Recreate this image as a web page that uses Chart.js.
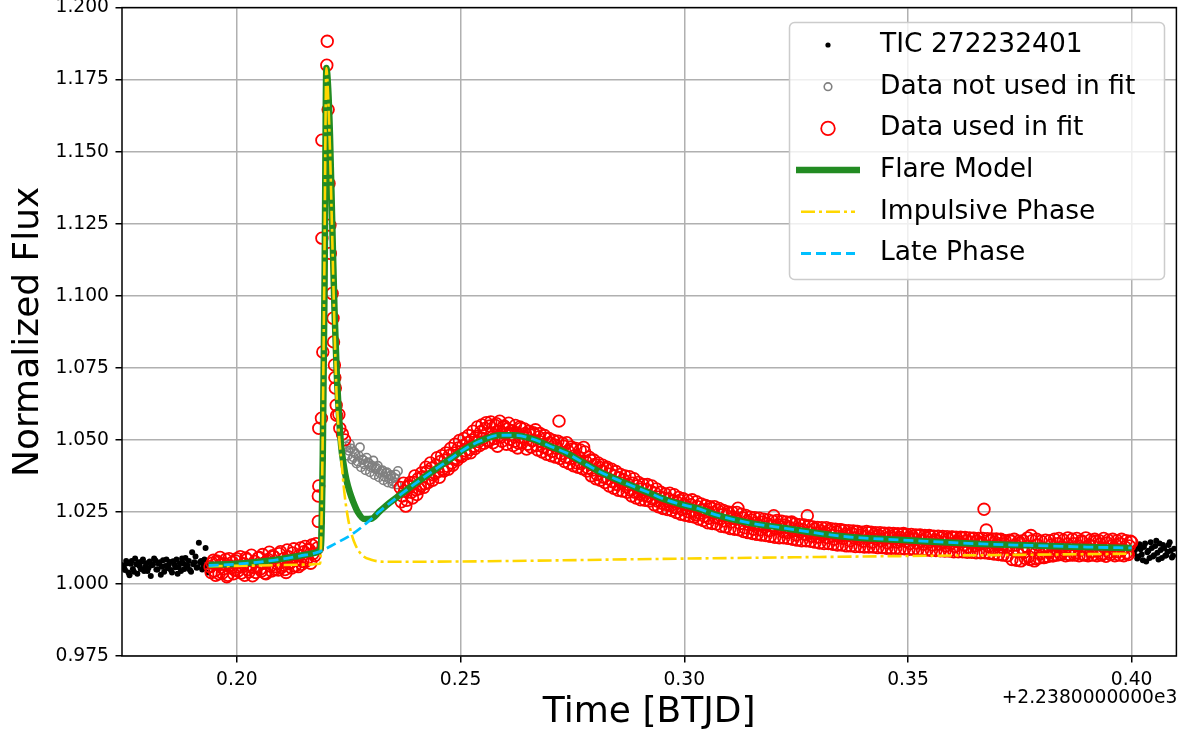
<!DOCTYPE html>
<html>
<head>
<meta charset="utf-8">
<title>TIC 272232401 flare</title>
<script src="https://cdn.jsdelivr.net/npm/chart.js@4.4.0/dist/chart.umd.min.js"></script>
<style>
  html, body { margin: 0; padding: 0; background: #fff; }
</style>
</head>
<body>
<canvas id="flareChart" width="1184" height="736"></canvas>
<script>
// Flare light curve of TIC 272232401 with the two-phase flare model

const cadence = 0.0005; // days between samples in one array
const interleave = 0.00025; // second array of each segment sits half a step later

const xTickValues = [0.20, 0.25, 0.30, 0.35, 0.40];
const yTickValues = [0.975, 1.000, 1.025, 1.050, 1.075, 1.100, 1.125, 1.150, 1.175, 1.200];
const timeOffsetLabel = '+2.2380000000e3';

// black: light curve outside the fit window
const preStart = 0.1745;
const preFlux = [1.0065, 1.0048, 1.0072, 1.0030, 1.0080, 1.0042, 1.0068, 1.0075, 1.0052, 1.0085,
                 1.0060, 1.0045, 1.0078, 1.0065, 1.0088, 1.0050, 1.0070, 1.0032, 1.0082, 1.0062,
                 1.0055, 1.0076, 1.0040, 1.0068, 1.0085, 1.0058, 1.0045, 1.0072, 1.0090, 1.0062,
                 1.0048, 1.0110, 1.0075, 1.0056, 1.0143, 1.0080, 1.0066, 1.0125, 1.0040];
const preFluxB = [1.0058, 1.0080, 1.0040, 1.0070, 1.0052, 1.0088, 1.0035, 1.0062, 1.0078, 1.0045,
                  1.0072, 1.0055, 1.0028, 1.0068, 1.0082, 1.0050, 1.0075, 1.0060, 1.0042, 1.0085,
                  1.0066, 1.0048, 1.0079, 1.0058, 1.0035, 1.0072, 1.0088, 1.0052, 1.0065, 1.0080,
                  1.0042, 1.0068, 1.0095, 1.0058, 1.0075, 1.0050, 1.0085, 1.0062];
const postStart = 0.4005;
const postFlux = [1.0105, 1.0130, 1.0095, 1.0120, 1.0082, 1.0140, 1.0110, 1.0090, 1.0125, 1.0100,
                  1.0150, 1.0085, 1.0118, 1.0135, 1.0098, 1.0112, 1.0145, 1.0092, 1.0122];
const postFluxB = [1.0118, 1.0088, 1.0138, 1.0102, 1.0128, 1.0078, 1.0115, 1.0145, 1.0095, 1.0132,
                   1.0108, 1.0140, 1.0090, 1.0125, 1.0100, 1.0135, 1.0115, 1.0098];

// red: data used in fit
const quietStart = 0.1940;
const quietFlux = [1.0060, 1.0072, 1.0045, 1.0080, 1.0035, 1.0068, 1.0052, 1.0085, 1.0030, 1.0062,
                   1.0075, 1.0048, 1.0088, 1.0058, 1.0038, 1.0070, 1.0090, 1.0050, 1.0065, 1.0028,
                   1.0078, 1.0060, 1.0092, 1.0045, 1.0072, 1.0035, 1.0085, 1.0062, 1.0098, 1.0050,
                   1.0070, 1.0105, 1.0058, 1.0088, 1.0040, 1.0095, 1.0075, 1.0108, 1.0062, 1.0085,
                   1.0100, 1.0068, 1.0112, 1.0080, 1.0120, 1.0072, 1.0105];
const quietFluxB = [1.0040, 1.0082, 1.0030, 1.0075, 1.0092, 1.0038, 1.0070, 1.0025, 1.0088, 1.0055,
                    1.0035, 1.0080, 1.0045, 1.0095, 1.0060, 1.0030, 1.0085, 1.0042, 1.0100, 1.0058,
                    1.0040, 1.0090, 1.0052, 1.0102, 1.0038, 1.0080, 1.0110, 1.0045, 1.0095, 1.0060,
                    1.0048, 1.0112, 1.0065, 1.0050, 1.0118, 1.0070, 1.0055, 1.0122, 1.0082, 1.0060,
                    1.0125, 1.0078, 1.0130, 1.0090, 1.0118, 1.0135];
const peakTimes = [0.2174, 0.2177, 0.2180, 0.2182, 0.2182, 0.2183, 0.2183, 0.2189, 0.2192, 0.2190,
                   0.2190, 0.2201, 0.2202, 0.2204, 0.2206, 0.2208, 0.2209, 0.2213, 0.2215, 0.2216,
                   0.2218, 0.2219, 0.2220, 0.2222, 0.2223, 0.2228, 0.2230, 0.2236, 0.2241];
const peakFlux = [1.0098, 1.0140, 1.0125, 1.0217, 1.0305, 1.0340, 1.0540, 1.0575, 1.0805, 1.1200,
                  1.1540, 1.1800, 1.1883, 1.1646, 1.1390, 1.1245, 1.1147, 1.1008, 1.0922, 1.0840,
                  1.0760, 1.0716, 1.0680, 1.0620, 1.0585, 1.0588, 1.0540, 1.0520, 1.0500];
const gradualStart = 0.2365;
const gradualFlux = [
  1.0335, 1.0305, 1.0322, 1.0290, 1.0338, 1.0318, 1.0352, 1.0327, 1.0365, 1.0340,
  1.0372, 1.0348, 1.0390, 1.0366, 1.0402, 1.0378, 1.0412, 1.0390, 1.0425, 1.0398,
  1.0430, 1.0408, 1.0446, 1.0420, 1.0455, 1.0436, 1.0472, 1.0448, 1.0480, 1.0462,
  1.0490, 1.0466, 1.0500, 1.0478, 1.0512, 1.0494, 1.0528, 1.0505, 1.0540, 1.0498,
  1.0548, 1.0522, 1.0505, 1.0556, 1.0530, 1.0510, 1.0545, 1.0520, 1.0538, 1.0502,
  1.0532, 1.0495, 1.0525, 1.0488, 1.0540, 1.0510, 1.0522, 1.0485, 1.0518, 1.0497,
  1.0520, 1.0480, 1.0510, 1.0493, 1.0475, 1.0505, 1.0468, 1.0490, 1.0460, 1.0482,
  1.0470, 1.0565, 1.0452, 1.0478, 1.0440, 1.0462, 1.0435, 1.0468, 1.0445, 1.0420,
  1.0440, 1.0418, 1.0474, 1.0425, 1.0402, 1.0430, 1.0395, 1.0415, 1.0380, 1.0405,
  1.0392, 1.0370, 1.0400, 1.0365, 1.0382, 1.0355, 1.0375, 1.0345, 1.0368, 1.0350,
  1.0360, 1.0338, 1.0345, 1.0325, 1.0350, 1.0318, 1.0340, 1.0312, 1.0330, 1.0308,
  1.0328, 1.0305, 1.0322, 1.0295, 1.0315, 1.0288, 1.0302, 1.0280, 1.0298, 1.0276,
  1.0295, 1.0272, 1.0288, 1.0265, 1.0282, 1.0290, 1.0258, 1.0276, 1.0262, 1.0250,
  1.0275, 1.0252, 1.0240, 1.0268, 1.0245, 1.0258, 1.0235, 1.0250, 1.0228, 1.0262,
  1.0248, 1.0230, 1.0255, 1.0225, 1.0240, 1.0218, 1.0236, 1.0245, 1.0215, 1.0230,
  1.0225, 1.0263, 1.0210, 1.0230, 1.0195, 1.0218, 1.0205, 1.0222, 1.0190, 1.0212,
  1.0205, 1.0188, 1.0215, 1.0198, 1.0210, 1.0185, 1.0202, 1.0237, 1.0192, 1.0205,
  1.0198, 1.0182, 1.0205, 1.0178, 1.0195, 1.0215, 1.0185, 1.0170, 1.0192, 1.0180,
  1.0188, 1.0172, 1.0237, 1.0180, 1.0165, 1.0190, 1.0175, 1.0162, 1.0185, 1.0170,
  1.0178, 1.0160, 1.0185, 1.0168, 1.0155, 1.0180, 1.0165, 1.0188, 1.0158, 1.0172,
  1.0168, 1.0150, 1.0175, 1.0160, 1.0182, 1.0155, 1.0170, 1.0148, 1.0165, 1.0178,
  1.0160, 1.0145, 1.0172, 1.0155, 1.0168, 1.0150, 1.0175, 1.0158, 1.0142, 1.0165,
  1.0158, 1.0170, 1.0145, 1.0162, 1.0150, 1.0175, 1.0148, 1.0160, 1.0140, 1.0165,
  1.0155, 1.0142, 1.0168, 1.0150, 1.0138, 1.0160, 1.0145, 1.0165, 1.0135, 1.0152,
  1.0150, 1.0138, 1.0160, 1.0145, 1.0132, 1.0155, 1.0140, 1.0162, 1.0130, 1.0148,
  1.0145, 1.0160, 1.0135, 1.0150, 1.0128, 1.0145, 1.0158, 1.0132, 1.0148, 1.0138,
  1.0142, 1.0259, 1.0187, 1.0130, 1.0150, 1.0125, 1.0145, 1.0135, 1.0152, 1.0128,
  1.0140, 1.0128, 1.0122, 1.0148, 1.0118, 1.0135, 1.0112, 1.0142, 1.0125, 1.0110,
  1.0130, 1.0095, 1.0168, 1.0120, 1.0088, 1.0135, 1.0105, 1.0125, 1.0092, 1.0118,
  1.0110, 1.0135, 1.0098, 1.0122, 1.0140, 1.0105, 1.0128, 1.0115, 1.0138, 1.0102,
  1.0125, 1.0140, 1.0108, 1.0132, 1.0118, 1.0145, 1.0100, 1.0128, 1.0135, 1.0112,
  1.0130, 1.0148, 1.0115, 1.0138, 1.0105, 1.0125, 1.0142, 1.0110, 1.0132, 1.0120,
  1.0135, 1.0112, 1.0140, 1.0120, 1.0128, 1.0108, 1.0132, 1.0145];
const gradualFluxB = [
  1.0285, 1.0350, 1.0270, 1.0340, 1.0352, 1.0298, 1.0375, 1.0310, 1.0330, 1.0385,
  1.0335, 1.0405, 1.0352, 1.0420, 1.0360, 1.0385, 1.0438, 1.0370, 1.0445, 1.0392,
  1.0455, 1.0398, 1.0470, 1.0412, 1.0485, 1.0430, 1.0498, 1.0442, 1.0505, 1.0452,
  1.0515, 1.0455, 1.0530, 1.0470, 1.0545, 1.0480, 1.0552, 1.0488, 1.0560, 1.0495,
  1.0562, 1.0490, 1.0550, 1.0478, 1.0565, 1.0495, 1.0548, 1.0485, 1.0558, 1.0530,
  1.0480, 1.0550, 1.0472, 1.0545, 1.0490, 1.0538, 1.0468, 1.0530, 1.0475, 1.0525,
  1.0535, 1.0465, 1.0522, 1.0458, 1.0515, 1.0450, 1.0505, 1.0445, 1.0498, 1.0440,
  1.0495, 1.0435, 1.0488, 1.0425, 1.0490, 1.0418, 1.0475, 1.0410, 1.0470, 1.0405,
  1.0465, 1.0400, 1.0458, 1.0392, 1.0440, 1.0375, 1.0430, 1.0365, 1.0420, 1.0360,
  1.0412, 1.0352, 1.0405, 1.0340, 1.0398, 1.0332, 1.0390, 1.0325, 1.0380, 1.0322,
  1.0375, 1.0318, 1.0372, 1.0305, 1.0365, 1.0298, 1.0352, 1.0292, 1.0345, 1.0290,
  1.0345, 1.0288, 1.0340, 1.0275, 1.0330, 1.0268, 1.0318, 1.0262, 1.0312, 1.0258,
  1.0315, 1.0255, 1.0310, 1.0248, 1.0300, 1.0242, 1.0296, 1.0238, 1.0290, 1.0235,
  1.0292, 1.0232, 1.0285, 1.0225, 1.0278, 1.0220, 1.0272, 1.0212, 1.0268, 1.0210,
  1.0268, 1.0208, 1.0262, 1.0200, 1.0255, 1.0198, 1.0250, 1.0192, 1.0248, 1.0190,
  1.0248, 1.0188, 1.0242, 1.0182, 1.0238, 1.0178, 1.0232, 1.0175, 1.0230, 1.0172,
  1.0228, 1.0170, 1.0225, 1.0168, 1.0222, 1.0165, 1.0218, 1.0162, 1.0220, 1.0160,
  1.0218, 1.0160, 1.0215, 1.0158, 1.0212, 1.0155, 1.0208, 1.0152, 1.0206, 1.0150,
  1.0205, 1.0150, 1.0202, 1.0148, 1.0198, 1.0145, 1.0196, 1.0142, 1.0195, 1.0140,
  1.0195, 1.0140, 1.0192, 1.0138, 1.0190, 1.0135, 1.0188, 1.0135, 1.0186, 1.0132,
  1.0185, 1.0132, 1.0184, 1.0130, 1.0182, 1.0130, 1.0180, 1.0128, 1.0182, 1.0128,
  1.0180, 1.0128, 1.0178, 1.0126, 1.0178, 1.0126, 1.0176, 1.0124, 1.0176, 1.0124,
  1.0175, 1.0124, 1.0174, 1.0122, 1.0173, 1.0122, 1.0172, 1.0120, 1.0172, 1.0120,
  1.0170, 1.0120, 1.0170, 1.0118, 1.0168, 1.0118, 1.0168, 1.0116, 1.0166, 1.0116,
  1.0166, 1.0115, 1.0165, 1.0114, 1.0164, 1.0114, 1.0163, 1.0112, 1.0162, 1.0112,
  1.0162, 1.0112, 1.0161, 1.0110, 1.0160, 1.0110, 1.0159, 1.0108, 1.0158, 1.0108,
  1.0158, 1.0108, 1.0157, 1.0106, 1.0156, 1.0104, 1.0156, 1.0102, 1.0155, 1.0100,
  1.0150, 1.0098, 1.0152, 1.0085, 1.0155, 1.0082, 1.0148, 1.0080, 1.0150, 1.0088,
  1.0160, 1.0085, 1.0150, 1.0080, 1.0155, 1.0090, 1.0148, 1.0092, 1.0152, 1.0095,
  1.0150, 1.0098, 1.0155, 1.0100, 1.0158, 1.0102, 1.0152, 1.0098, 1.0160, 1.0100,
  1.0155, 1.0100, 1.0158, 1.0098, 1.0150, 1.0102, 1.0160, 1.0098, 1.0152, 1.0100,
  1.0155, 1.0098, 1.0150, 1.0100, 1.0158, 1.0096, 1.0152, 1.0102, 1.0155, 1.0098,
  1.0150, 1.0100, 1.0155, 1.0098, 1.0150, 1.0102, 1.0148];

// gray: data not used in fit
const unusedStart = 0.2245;
const unusedFlux = [1.0478, 1.0462, 1.0470, 1.0440, 1.0452, 1.0425, 1.0474, 1.0432, 1.0415, 1.0438,
                    1.0420, 1.0405, 1.0428, 1.0398, 1.0410, 1.0385, 1.0395, 1.0372, 1.0388, 1.0365,
                    1.0378, 1.0355, 1.0380, 1.0392];
const unusedFluxB = [1.0445, 1.0485, 1.0432, 1.0458, 1.0418, 1.0445, 1.0405, 1.0430, 1.0395, 1.0422,
                     1.0388, 1.0410, 1.0378, 1.0402, 1.0370, 1.0392, 1.0360, 1.0385, 1.0352, 1.0375,
                     1.0348, 1.0368, 1.0345];

// model curves
const lateTimes = [0.1937, 0.2000, 0.2050, 0.2100, 0.2140, 0.2185, 0.2220, 0.2257, 0.2289, 0.2320,
                   0.2364, 0.2400, 0.2438, 0.2480, 0.2513, 0.2550, 0.2587, 0.2620, 0.2661, 0.2700,
                   0.2736, 0.2770, 0.2810, 0.2850, 0.2884, 0.2922, 0.2959, 0.2996, 0.3030, 0.3071,
                   0.3145, 0.3219, 0.3294, 0.3368, 0.3442, 0.3517, 0.3590, 0.3665, 0.3740, 0.3815,
                   0.3900, 0.4000];
const lateFlux = [1.0064, 1.0069, 1.0076, 1.0086, 1.0097, 1.0112, 1.0140, 1.0172, 1.0210, 1.0253,
                  1.0308, 1.0350, 1.0392, 1.0437, 1.0472, 1.0500, 1.0516, 1.0516, 1.0503, 1.0478,
                  1.0455, 1.0425, 1.0390, 1.0362, 1.0340, 1.0316, 1.0292, 1.0275, 1.0262, 1.0240,
                  1.0212, 1.0195, 1.0177, 1.0163, 1.0156, 1.0150, 1.0144, 1.0139, 1.0135, 1.0132,
                  1.0128, 1.0125];
const flareTimes = [0.1937, 0.2000, 0.2050, 0.2100, 0.2140, 0.2175, 0.2185, 0.2188, 0.2192, 0.2196,
                    0.2200, 0.2204, 0.2208, 0.2213, 0.2218, 0.2223, 0.2228, 0.2233, 0.2239, 0.2245,
                    0.2252, 0.2260, 0.2270, 0.2285, 0.2300, 0.2320, 0.2340, 0.2364];
const flareFlux = [1.0066, 1.0070, 1.0077, 1.0087, 1.0098, 1.0108, 1.0115, 1.0135, 1.0450, 1.1050,
                   1.1790, 1.1720, 1.1560, 1.1260, 1.0960, 1.0740, 1.0590, 1.0480, 1.0410, 1.0360,
                   1.0320, 1.0285, 1.0250, 1.0225, 1.0226, 1.0253, 1.0280, 1.0308];
const impulsiveTimes = [0.1937, 0.2050, 0.2150, 0.2186, 0.2190, 0.2195, 0.2200, 0.2204, 0.2208, 0.2213,
                        0.2218, 0.2223, 0.2228, 0.2234, 0.2240, 0.2247, 0.2255, 0.2265, 0.2280, 0.2300,
                        0.2330, 0.2500, 0.3000, 0.3500, 0.4000];
const impulsiveFlux = [1.0062, 1.0064, 1.0067, 1.0070, 1.0300, 1.1000, 1.1790, 1.1690, 1.1510, 1.1210,
                       1.0900, 1.0650, 1.0520, 1.0420, 1.0320, 1.0240, 1.0180, 1.0135, 1.0100, 1.0084,
                       1.0077, 1.0078, 1.0088, 1.0097, 1.0105];

function gridPoints(start, flux) {
    return flux.map((f, i) => ({ x: start + i * cadence, y: f }));
}

function pairPoints(times, flux) {
    return flux.map((f, i) => ({ x: times[i], y: f }));
}

// flare model follows the late phase once the impulsive part has died away
const flareModel = pairPoints(flareTimes, flareFlux)
    .concat(pairPoints(lateTimes, lateFlux).filter(p => p.x > 0.2364));

const usedData = gridPoints(quietStart, quietFlux)
    .concat(gridPoints(quietStart + interleave, quietFluxB))
    .concat(pairPoints(peakTimes, peakFlux))
    .concat(gridPoints(gradualStart, gradualFlux))
    .concat(gridPoints(gradualStart + interleave, gradualFluxB));

const unusedData = gridPoints(unusedStart, unusedFlux)
    .concat(gridPoints(unusedStart + interleave, unusedFluxB));

const outsideData = gridPoints(preStart, preFlux)
    .concat(gridPoints(preStart + interleave, preFluxB))
    .concat(gridPoints(postStart, postFlux))
    .concat(gridPoints(postStart + interleave, postFluxB));

// plot frame (matplotlib style spines on every side)
const framePlugin = {
    id: 'frame',
    afterDatasetsDraw(chart) {
        const { ctx, chartArea: a } = chart;
        ctx.save();
        ctx.strokeStyle = '#000';
        ctx.lineWidth = 1.5;
        ctx.strokeRect(a.left, a.top, a.right - a.left, a.bottom - a.top);
        ctx.restore();
    }
};

const offsetPlugin = {
    id: 'offsetText',
    afterDraw(chart) {
        const ctx = chart.ctx;
        ctx.save();
        ctx.font = '18.7px "DejaVu Sans"';
        ctx.fillStyle = '#000';
        ctx.textAlign = 'right';
        ctx.textBaseline = 'alphabetic';
        ctx.fillText(timeOffsetLabel, chart.chartArea.right + 1, 703);
        ctx.restore();
    }
};

const legendPlugin = {
    id: 'boxLegend',
    afterDraw(chart) {
        const ctx = chart.ctx;
        const left = 789.5, top = 22.5, w = 375, h = 257, r = 5;
        ctx.save();
        ctx.beginPath();
        ctx.roundRect(left, top, w, h, r);
        ctx.fillStyle = 'rgba(255,255,255,0.8)';
        ctx.fill();
        ctx.strokeStyle = '#cccccc';
        ctx.lineWidth = 1.5;
        ctx.stroke();

        ctx.font = '26.5px "DejaVu Sans"';
        ctx.textBaseline = 'middle';
        ctx.textAlign = 'left';
        const markX = 828;
        chart.data.datasets.forEach((ds, i) => {
            const y = 45 + i * 41.7;
            ctx.save();
            if (ds.showLine) {
                ctx.beginPath();
                ctx.strokeStyle = ds.borderColor;
                ctx.lineWidth = ds.borderWidth;
                ctx.setLineDash(ds.borderDash || []);
                const half = ds.borderDash ? 27 : 32;
                ctx.moveTo(markX - half, y);
                ctx.lineTo(markX + half, y);
                ctx.stroke();
            } else {
                ctx.beginPath();
                ctx.arc(markX, y, ds.legendRadius, 0, Math.PI * 2);
                if (ds.backgroundColor !== 'transparent') {
                    ctx.fillStyle = ds.backgroundColor;
                    ctx.fill();
                } else {
                    ctx.strokeStyle = ds.borderColor;
                    ctx.lineWidth = ds.borderWidth;
                    ctx.stroke();
                }
            }
            ctx.restore();
            ctx.fillStyle = '#000';
            ctx.fillText(ds.label, 880, y);
        });
        ctx.restore();
    }
};

Chart.defaults.font.family = '"DejaVu Sans", sans-serif';
Chart.defaults.color = '#000';

new Chart(document.getElementById('flareChart'), {
    type: 'scatter',
    data: {
        datasets: [
            {
                label: 'TIC 272232401',
                data: outsideData,
                backgroundColor: '#000',
                borderColor: '#000',
                borderWidth: 0,
                pointRadius: 3,
                legendRadius: 2.6,
                order: 6
            },
            {
                label: 'Data not used in fit',
                data: unusedData,
                backgroundColor: 'transparent',
                borderColor: 'gray',
                borderWidth: 1.6,
                pointRadius: 4.2,
                legendRadius: 3.8,
                order: 5
            },
            {
                label: 'Data used in fit',
                data: usedData,
                backgroundColor: 'transparent',
                borderColor: 'red',
                borderWidth: 1.8,
                pointRadius: 5.8,
                legendRadius: 6.8,
                order: 4
            },
            {
                label: 'Flare Model',
                data: flareModel,
                showLine: true,
                borderColor: 'forestgreen',
                borderWidth: 6.5,
                pointRadius: 0,
                cubicInterpolationMode: 'monotone',
                order: 3
            },
            {
                label: 'Impulsive Phase',
                data: pairPoints(impulsiveTimes, impulsiveFlux),
                showLine: true,
                borderColor: 'gold',
                borderWidth: 2.6,
                borderDash: [14, 4, 3, 4],
                pointRadius: 0,
                cubicInterpolationMode: 'monotone',
                order: 2
            },
            {
                label: 'Late Phase',
                data: pairPoints(lateTimes, lateFlux),
                showLine: true,
                borderColor: 'deepskyblue',
                borderWidth: 2.8,
                borderDash: [10, 5],
                pointRadius: 0,
                cubicInterpolationMode: 'monotone',
                order: 1
            }
        ]
    },
    options: {
        responsive: false,
        animation: false,
        layout: { padding: { left: 0, top: 7, right: 6, bottom: 0 } },
        plugins: {
            legend: { display: false },
            tooltip: { enabled: false }
        },
        scales: {
            x: {
                type: 'linear',
                min: 0.17432,
                max: 0.41,
                afterBuildTicks: scale => { scale.ticks = xTickValues.map(v => ({ value: v })); },
                afterFit: scale => { scale.height = 80; scale.paddingLeft = 0; scale.paddingRight = 0; },
                ticks: {
                    font: { size: 18.7 },
                    padding: 6,
                    maxRotation: 0,
                    callback: v => v.toFixed(2)
                },
                grid: { color: '#b0b0b0', lineWidth: 1.5, tickColor: '#000', tickLength: 6.5 },
                border: { display: false },
                title: {
                    display: true,
                    text: 'Time [BTJD]',
                    font: { size: 36 },
                    padding: { top: 0, bottom: 2 }
                }
            },
            y: {
                type: 'linear',
                min: 0.975,
                max: 1.2,
                afterBuildTicks: scale => { scale.ticks = yTickValues.map(v => ({ value: v })); },
                afterFit: scale => { scale.width = 122; scale.paddingTop = 0; scale.paddingBottom = 0; },
                ticks: {
                    font: { size: 18.7 },
                    padding: 6.5,
                    callback: v => v.toFixed(3)
                },
                grid: { color: '#b0b0b0', lineWidth: 1.5, tickColor: '#000', tickLength: 6.5 },
                border: { display: false },
                title: {
                    display: true,
                    text: 'Normalized Flux',
                    font: { size: 36 },
                    padding: { top: 7.5, bottom: 0 }
                }
            }
        }
    },
    plugins: [framePlugin, offsetPlugin, legendPlugin]
});
</script>
</body>
</html>
